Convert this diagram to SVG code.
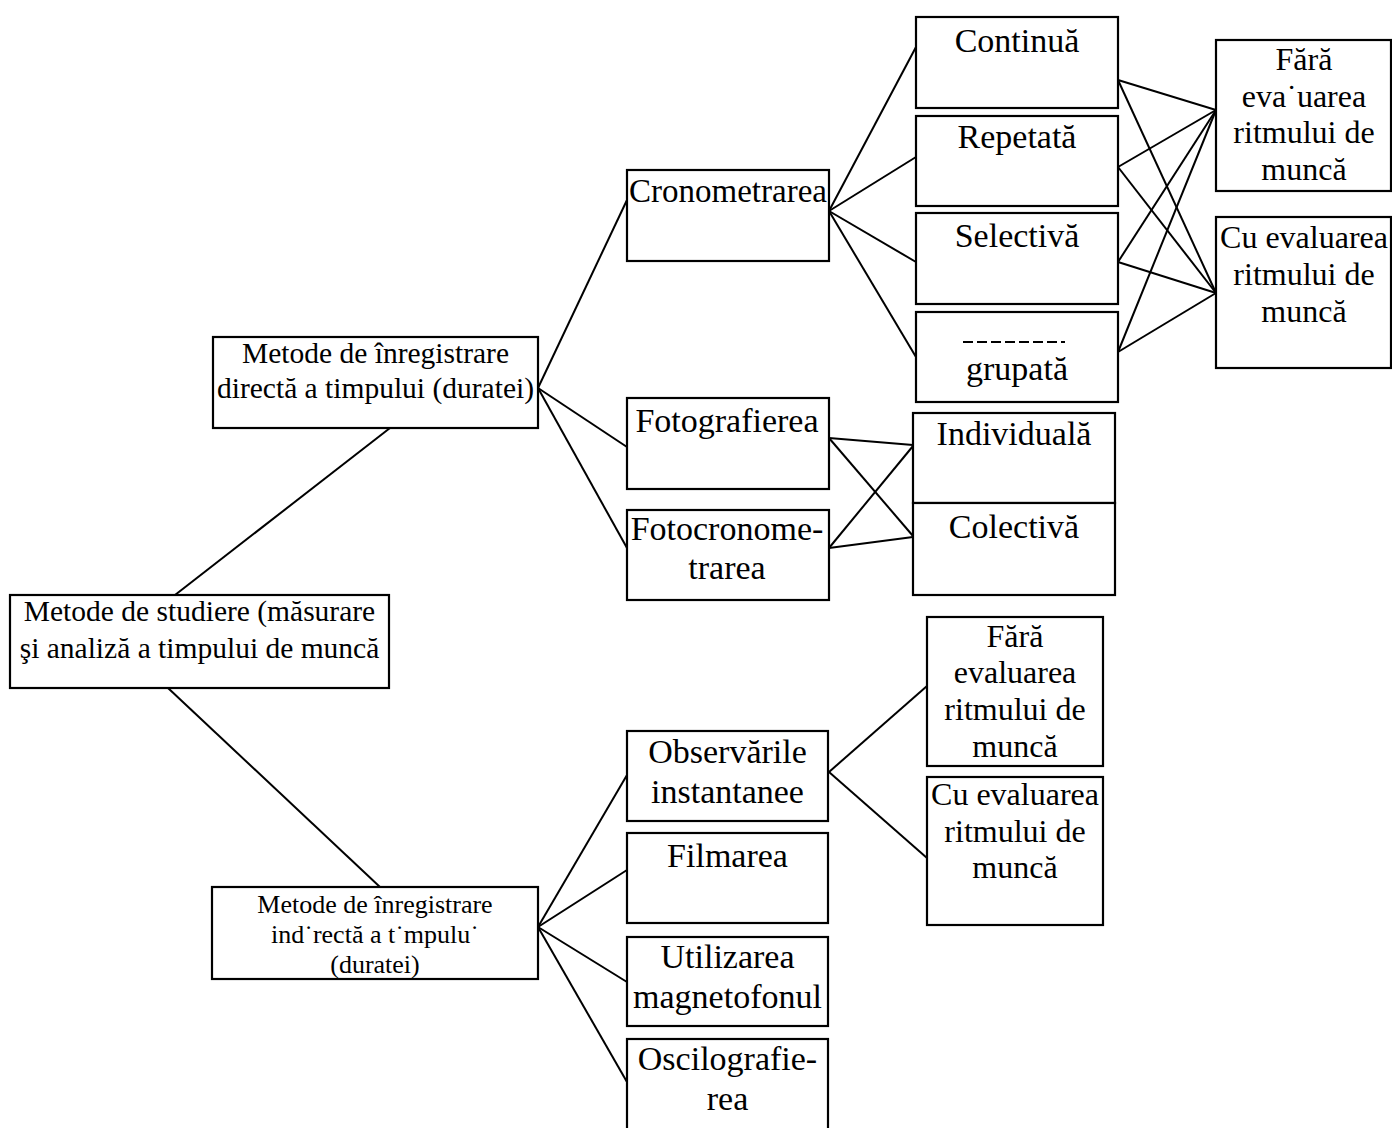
<svg xmlns="http://www.w3.org/2000/svg" width="1392" height="1128" viewBox="0 0 1392 1128">
<style>
  rect.box { fill: #ffffff; stroke: #000000; stroke-width: 2.2; }
  .edges line, .edges path { stroke: #000000; stroke-width: 2; fill: none; }
  text { font-family: "Liberation Serif", "Times New Roman", serif; fill: #000000; text-anchor: middle; }
  .f26 { font-size: 26px; }
  .f29 { font-size: 29.5px; }
  .f32 { font-size: 32px; }
  .f34 { font-size: 34px; }
</style>
<rect x="0" y="0" width="1392" height="1128" fill="#ffffff"/>

<g class="edges" id="connectors">
  <!-- root -->
  <line x1="175" y1="595" x2="390" y2="428"/>
  <line x1="168" y1="688" x2="380" y2="887"/>
  <!-- directa -->
  <line x1="538" y1="388" x2="627" y2="200"/>
  <line x1="538" y1="388" x2="627" y2="447"/>
  <line x1="538" y1="388" x2="627" y2="548"/>
  <!-- cronometrarea -->
  <line x1="829" y1="211" x2="916" y2="47"/>
  <line x1="829" y1="211" x2="916" y2="157"/>
  <line x1="829" y1="211" x2="916" y2="262"/>
  <line x1="829" y1="211" x2="916" y2="357"/>
  <!-- to evaluation boxes -->
  <line x1="1118" y1="80" x2="1216" y2="110"/>
  <line x1="1118" y1="80" x2="1216" y2="293"/>
  <line x1="1118" y1="167" x2="1216" y2="110"/>
  <line x1="1118" y1="167" x2="1216" y2="293"/>
  <line x1="1118" y1="262" x2="1216" y2="110"/>
  <line x1="1118" y1="262" x2="1216" y2="293"/>
  <line x1="1118" y1="352" x2="1216" y2="110"/>
  <line x1="1118" y1="352" x2="1216" y2="293"/>
  <!-- fotografierea / fotocronometrarea -->
  <line x1="829" y1="438" x2="913" y2="445"/>
  <line x1="829" y1="438" x2="913" y2="536"/>
  <line x1="829" y1="548" x2="913" y2="446"/>
  <line x1="829" y1="548" x2="913" y2="537"/>
  <!-- indirecta -->
  <line x1="538" y1="927" x2="627" y2="775"/>
  <line x1="538" y1="927" x2="627" y2="870"/>
  <line x1="538" y1="927" x2="627" y2="982"/>
  <line x1="538" y1="927" x2="627" y2="1082"/>
  <!-- observarile -->
  <line x1="829" y1="772" x2="927" y2="686"/>
  <line x1="829" y1="772" x2="927" y2="858"/>
</g>

<g id="root">
  <rect class="box" x="10" y="595" width="379" height="93"/>
  <text class="f29" x="199.5" y="621">Metode de studiere (măsurare</text>
  <text class="f29" x="199.5" y="658">şi analiză a timpului de muncă</text>
</g>

<g id="directa">
  <rect class="box" x="213" y="337" width="325" height="91"/>
  <text class="f29" x="375.5" y="363">Metode de înregistrare</text>
  <text class="f29" x="375.5" y="398">directă a timpului (duratei)</text>
</g>

<g id="indirecta">
  <rect class="box" x="212" y="887" width="326" height="92"/>
  <text class="f26" x="375" y="913">Metode de înregistrare</text>
  <text class="f26" x="375" y="943">ind˙rectă a t˙mpulu˙</text>
  <text class="f26" x="375" y="973">(duratei)</text>
</g>

<g id="cronometrarea">
  <rect class="box" x="627" y="170" width="202" height="91"/>
  <text x="728" y="202" style="font-size:33px">Cronometrarea</text>
</g>

<g id="fotografierea">
  <rect class="box" x="627" y="398" width="202" height="91"/>
  <text class="f34" x="727" y="432">Fotografierea</text>
</g>

<g id="fotocronometrarea">
  <rect class="box" x="627" y="510" width="202" height="90"/>
  <text class="f34" x="727" y="540">Fotocronome-</text>
  <text class="f34" x="727" y="579">trarea</text>
</g>

<g id="continua">
  <rect class="box" x="916" y="17" width="202" height="91"/>
  <text class="f34" x="1017" y="52">Continuă</text>
</g>

<g id="repetata">
  <rect class="box" x="916" y="116" width="202" height="90"/>
  <text class="f34" x="1017" y="148">Repetată</text>
</g>

<g id="selectiva">
  <rect class="box" x="916" y="213" width="202" height="91"/>
  <text class="f34" x="1017" y="247">Selectivă</text>
</g>

<g id="selectiva-grupata">
  <rect class="box" x="916" y="312" width="202" height="90"/>
  <path d="M963 342 H1065" stroke="#000" stroke-width="2" stroke-dasharray="10 4" fill="none"/>
  <text class="f34" x="1017" y="380">grupată</text>
</g>

<g id="individuala">
  <rect class="box" x="913" y="413" width="202" height="90"/>
  <text class="f34" x="1014" y="445">Individuală</text>
</g>

<g id="colectiva">
  <rect class="box" x="913" y="503" width="202" height="92"/>
  <text class="f34" x="1014" y="538">Colectivă</text>
</g>

<g id="fara-top">
  <rect class="box" x="1216" y="40" width="175" height="151"/>
  <text class="f32" x="1304" y="70">Fără</text>
  <text class="f32" x="1304" y="107">eva˙uarea</text>
  <text class="f32" x="1304" y="143">ritmului de</text>
  <text class="f32" x="1304" y="180">muncă</text>
</g>

<g id="cu-top">
  <rect class="box" x="1216" y="217" width="175" height="151"/>
  <text class="f32" x="1304" y="248">Cu evaluarea</text>
  <text class="f32" x="1304" y="285">ritmului de</text>
  <text class="f32" x="1304" y="322">muncă</text>
</g>

<g id="observarile">
  <rect class="box" x="627" y="731" width="201" height="90"/>
  <text class="f34" x="727.5" y="763">Observările</text>
  <text class="f34" x="727.5" y="803">instantanee</text>
</g>

<g id="filmarea">
  <rect class="box" x="627" y="833" width="201" height="90"/>
  <text class="f34" x="727.5" y="867">Filmarea</text>
</g>

<g id="utilizarea">
  <rect class="box" x="627" y="937" width="201" height="89"/>
  <text class="f34" x="727.5" y="968">Utilizarea</text>
  <text class="f34" x="727.5" y="1008">magnetofonul</text>
</g>

<g id="oscilografierea">
  <rect class="box" x="627" y="1039" width="201" height="100"/>
  <text class="f34" x="727.5" y="1070">Oscilografie-</text>
  <text class="f34" x="727.5" y="1110">rea</text>
</g>

<g id="fara-bottom">
  <rect class="box" x="927" y="617" width="176" height="149"/>
  <text class="f32" x="1015" y="647">Fără</text>
  <text class="f32" x="1015" y="683">evaluarea</text>
  <text class="f32" x="1015" y="720">ritmului de</text>
  <text class="f32" x="1015" y="757">muncă</text>
</g>

<g id="cu-bottom">
  <rect class="box" x="927" y="777" width="176" height="148"/>
  <text class="f32" x="1015" y="805">Cu evaluarea</text>
  <text class="f32" x="1015" y="842">ritmului de</text>
  <text class="f32" x="1015" y="878">muncă</text>
</g>
</svg>
